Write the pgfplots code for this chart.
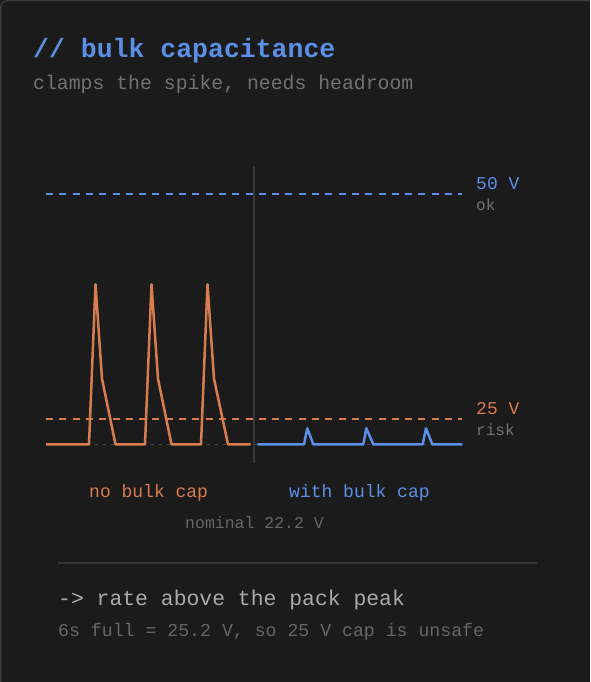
\documentclass[border=0pt]{standalone}
\usepackage{pgfplots}
\pgfplotsset{compat=1.18}
\usepackage{fontspec}
\setmainfont{Liberation Mono}
\setmonofont{Liberation Mono}
\definecolor{bg}{HTML}{1B1B1B}
\definecolor{bord}{HTML}{3A3A3A}
\definecolor{blu}{HTML}{5B8FE6}
\definecolor{org}{HTML}{D87C4E}
\definecolor{gry}{HTML}{727272}
\definecolor{dimgry}{HTML}{666666}
\definecolor{lgry}{HTML}{AAAAAA}
\definecolor{divc}{HTML}{363636}
\definecolor{dotc}{HTML}{4A4A4A}
\newcommand{\fs}[1]{\fontsize{#1pt}{#1pt}\selectfont}
\begin{document}
\begin{tikzpicture}[x=1pt,y=1pt]
\useasboundingbox (0,0) rectangle (590,682);
\clip (0,0) rectangle (590,682);
\fill[bg] (0,0) rectangle (590,682);
\draw[bord, line width=1.5pt, rounded corners=7pt] (0.75,-20) -- (0.75,681.25) -- (620,681.25);
% titles
\node[anchor=base west, inner sep=0, text=blu] at (33,682-57.3) {\fs{26.5}\bfseries // bulk capacitance};
\node[anchor=base west, inner sep=0, text=gry] at (33,682-90) {\fs{19.8}clamps the spike, needs headroom};
\begin{axis}[at={(0,0)}, anchor=south west, scale only axis,
  width=590pt, height=682pt, xmin=0, xmax=590, ymin=-4.19, ymax=71.59,
  hide axis, clip=false]
% divider
\addplot[divc, line width=1.5pt] coordinates {(254,53.14) (254,20.14)};
% nominal level
\addplot[dotc, line width=1.5pt, dash pattern=on 3pt off 5pt] coordinates {(95,22.2) (462,22.2)};
% thresholds
\addplot[blu, line width=2.1pt, dash pattern=on 7pt off 6.3pt] coordinates {(46,50) (462.3,50)};
\addplot[org, line width=1.8pt, dash pattern=on 7pt off 6.3pt] coordinates {(46,25) (462.3,25)};
% no bulk cap
\addplot[org, line width=2.5pt, line join=round] coordinates {
(46,22.22) (89,22.22) (95.5,40.0) (102,29.5) (115.5,22.22)
(145,22.22) (151.5,40.0) (158,29.5) (171.5,22.22)
(201,22.22) (207.5,40.0) (214,29.5) (228,22.22) (250.5,22.22)};
% with bulk cap
\addplot[blu, line width=2.5pt, line join=round] coordinates {
(257.5,22.22) (304,22.22) (307.3,24.0) (313.3,22.22)
(363.3,22.22) (366.3,24.0) (373.3,22.22)
(422.7,22.22) (426,24.0) (432.3,22.22) (462.3,22.22)};
\end{axis}
% right labels
\node[anchor=base west, inner sep=0, text=blu] at (476,682-190) {\fs{18}50 V};
\node[anchor=base west, inner sep=0, text=gry] at (476,682-211) {\fs{16}ok};
\node[anchor=base west, inner sep=0, text=org] at (476,682-415) {\fs{18}25 V};
\node[anchor=base west, inner sep=0, text=gry] at (476,682-436) {\fs{16}risk};
% bottom labels
\node[anchor=base west, inner sep=0, text=org] at (89,682-498) {\fs{18}no bulk cap};
\node[anchor=base west, inner sep=0, text=blu] at (289,682-498) {\fs{18}with bulk cap};
\node[anchor=base west, inner sep=0, text=dimgry] at (185,682-528.3) {\fs{16.5}nominal 22.2 V};
% separator
\draw[divc, line width=2pt] (57.5,682-563.3) -- (536.7,682-563.3);
\node[anchor=base west, inner sep=0, text=lgry] at (58,682-606) {\fs{21.4}-> rate above the pack peak};
\node[anchor=base west, inner sep=0, text=dimgry] at (58,682-636.7) {\fs{18.2}6s full = 25.2 V, so 25 V cap is unsafe};
\end{tikzpicture}
\end{document}
